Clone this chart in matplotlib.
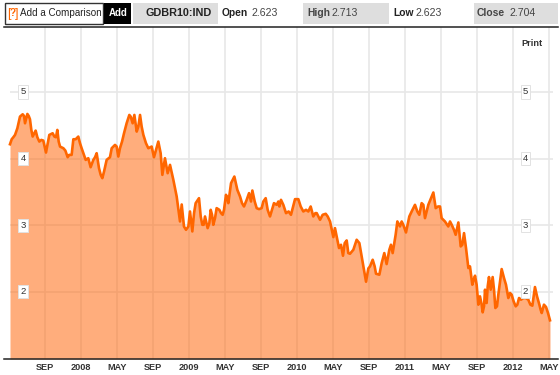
import matplotlib
matplotlib.use("Agg")
import matplotlib.pyplot as plt
from matplotlib.patches import Rectangle

# months after Sep 2007, yield in %
months = [
    -3.89, -3.70, -3.33, -3.07, -2.78, -2.48, -2.22, -1.96, -1.67, -1.37, -1.04, -0.63, -0.19, 0.11,
    0.48, 0.85, 1.04, 1.37, 1.67, 2.04, 2.52, 2.96, 3.15, 3.70, 4.07, 4.52, 4.81, 5.07, 5.74, 6.00,
    6.37, 6.85, 7.22, 7.41, 7.78, 8.15, 8.33, 8.78, 9.37, 9.74, 9.93, 10.19, 10.56, 10.93, 11.48,
    11.85, 12.11, 12.59, 13.04, 13.33, 13.63, 13.89, 14.26, 14.63, 15.00, 15.19, 15.67, 15.93, 16.11,
    16.37, 16.74, 17.11, 17.48, 17.78, 18.07, 18.41, 18.70, 19.07, 19.74, 20.11, 20.37, 20.67, 21.04,
    21.37, 22.11, 22.67, 22.89, 23.04, 23.52, 24.07, 24.52, 25.00, 25.44, 25.74, 26.22, 26.78, 27.33,
    27.78, 28.15, 28.70, 29.26, 29.52, 29.81, 30.19, 30.56, 31.19, 31.67, 32.04, 32.22, 32.67, 32.89,
    33.11, 33.52, 33.89, 34.63, 35.19, 35.67, 35.93, 36.11, 36.41, 36.78, 37.15, 37.41, 37.70, 37.96,
    38.44, 38.78, 39.15, 39.44, 39.63, 40.11, 40.48, 41.11, 41.59, 41.85, 42.22, 42.59, 43.15, 43.41,
    43.89, 44.07, 44.81, 45.19, 45.63, 45.93, 46.19, 46.56, 46.78, 47.04, 47.22, 47.48, 47.78, 48.15,
    48.33, 48.63, 48.89, 49.07, 49.33, 49.52, 49.74, 50.04, 50.37, 50.74, 51.22, 51.48, 51.85, 52.30,
    52.67, 53.15, 53.70, 54.15, 54.44, 54.93, 55.19, 55.67, 56.11,
]
yields = [
    4.215, 4.29, 4.355, 4.455, 4.63, 4.665, 4.53, 4.67, 4.59, 4.33, 4.42, 4.255, 4.27, 4.09,
    4.355, 4.38, 4.33, 4.43, 4.18, 4.155, 4.02, 4.055, 4.29, 4.33, 4.155, 3.98, 4.005, 3.87, 4.08, 3.855,
    3.705, 3.98, 4.02, 4.155, 4.205, 4.03, 4.155, 4.38, 4.655, 4.53, 4.655, 4.405, 4.655, 4.355, 4.155,
    4.18, 4.02, 4.255, 3.755, 4.005, 3.78, 3.905, 3.68, 3.43, 3.055, 3.31, 2.93, 2.98, 3.205,
    2.905, 3.33, 3.405, 3.005, 3.13, 2.955, 3.23, 3.005, 3.255, 3.155, 3.455, 3.33, 3.63, 3.73,
    3.53, 3.28, 3.48, 3.355, 3.52, 3.255, 3.255, 3.405, 3.13, 3.33, 3.305, 3.38, 3.18, 3.155,
    3.39, 3.39, 3.205, 3.205, 3.28, 3.13, 3.18, 3.08, 3.17, 3.055, 2.82, 2.955, 2.655, 2.705,
    2.54, 2.77, 2.57, 2.78, 2.53, 2.15, 2.35, 2.38, 2.48, 2.27, 2.255, 2.43, 2.58, 2.415,
    2.705, 2.705, 3.055, 2.98, 3.055, 2.89, 3.13, 3.305, 3.155, 3.33, 3.105, 3.305, 3.49, 3.255,
    3.28, 3.105, 2.98, 3.005, 2.855, 3.04, 2.68, 2.88, 2.655, 2.355, 2.38, 2.105, 2.24, 1.805,
    1.93, 1.69, 2.03, 1.83, 2.22, 2.03, 2.22, 1.755, 1.955, 2.34, 2.105, 1.905, 1.955, 1.78,
    1.905, 1.905, 1.88, 1.79, 2.07, 1.805, 1.68, 1.77, 1.57,
]
# second pass over the picture, the smaller wiggles
extra_months = [
    -3.52, -2.93, -2.33, -1.81, -1.52, -0.85, -0.41, 0.30, 1.22, 1.52, 2.26, 2.70, 3.41, 3.89, 4.33,
    5.37, 5.56, 6.19, 6.56, 7.96, 8.56, 9.07, 9.52, 10.37, 10.74, 11.22, 12.33, 12.85,
    15.44, 16.56, 17.30, 17.63, 18.26, 18.56, 18.89, 19.37, 19.56, 19.89, 20.26, 21.67, 21.89, 22.41,
    23.30, 23.78, 24.26, 24.74, 25.22, 25.93, 26.04, 26.48, 27.07, 27.52, 28.41, 29.00, 30.04, 30.37,
    30.85, 31.41, 33.30, 33.70, 34.26, 34.93, 35.44,
    36.63, 38.26, 38.63, 38.96, 39.81, 40.74, 41.37, 42.04, 42.89, 43.67, 44.44, 45.00, 45.44, 46.37,
    47.63, 47.96, 48.52, 48.78, 49.19, 49.89, 50.22, 51.00, 51.67, 52.07, 52.48, 52.89, 53.41, 53.93,
    54.67, 55.07, 55.44, 55.89,
]
extra_yields = [
    4.32, 4.54, 4.64, 4.64, 4.43, 4.32, 4.28, 4.23, 4.32, 4.255, 4.12, 4.055, 4.29, 4.23, 4.055,
    3.98, 4.02, 3.755, 3.805, 4.18, 4.255, 4.53, 4.63, 4.48, 4.48, 4.23, 4.13, 4.08,
    2.98, 3.18, 3.13, 3.005, 3.03, 3.155, 3.105, 3.23, 3.18, 3.23, 3.405, 3.43, 3.33, 3.38,
    3.355, 3.24, 3.355, 3.23, 3.23, 3.355, 3.28, 3.305, 3.205, 3.255, 3.28, 3.23, 3.18, 3.13,
    3.155, 3.13, 2.73, 2.58, 2.63, 2.73, 2.33,
    2.38, 2.63, 2.58, 2.855, 3.005, 3.205, 3.205, 3.305, 3.405, 3.28, 3.055, 3.055, 2.93, 2.705,
    2.18, 2.105, 1.805, 1.78, 2.08, 2.03, 1.78, 2.205, 1.98, 1.855, 1.805, 1.88, 1.905, 1.805,
    1.93, 1.73, 1.805, 1.68,
]
tick_months = [0, 4, 8, 12, 16, 20, 24, 28, 32, 36, 40, 44, 48, 52, 56]
tick_labels = ["SEP", "2008", "MAY", "SEP", "2009", "MAY", "SEP", "2010", "MAY", "SEP",
               "2011", "MAY", "SEP", "2012", "MAY"]
y_levels = [2, 3, 4, 5]

W, H = 560, 375
ORANGE = "#FF6600"
GRID = "#E8E8E8"
INK = "#222222"
BOX = "#DEDEDE"

plt.rcParams["font.family"] = ["Liberation Sans", "DejaVu Sans"]

merged = sorted(zip(months + extra_months, yields + extra_yields))
xs = [m for m, _ in merged]
ys = [v for _, v in merged]

fig = plt.figure(figsize=(W / 100, H / 100), dpi=100, facecolor="white")
ax = fig.add_axes([4 / W, 1 - 359 / H, 554 / W, 332 / H])
ax.set_xlim(-4.556, 57)
ax.set_ylim(0.989, 5.976)

for spine in ["left", "right"]:
    ax.spines[spine].set_visible(False)
for spine in ["top", "bottom"]:
    ax.spines[spine].set_color("#222222")
    ax.spines[spine].set_linewidth(1.1)

ax.hlines(y_levels, xs[0], 56.4, color=GRID, lw=1.2, zorder=1)
ax.vlines(tick_months, 0.989, 5.976, color=GRID, lw=1.2, zorder=1)

ax.fill_between(xs, ys, 0.989, color="#FF6A10", alpha=0.55, lw=0, zorder=2)
ax.plot(xs, ys, color=ORANGE, lw=1.9, solid_joinstyle="round", zorder=3)

ax.set_xticks(tick_months)
ax.set_xticklabels(tick_labels, fontsize=6.6, fontweight="bold", color="#333333")
ax.tick_params(axis="x", length=0, pad=3)
ax.set_yticks([])

label_box = dict(boxstyle="square,pad=0.22", fc="white", ec="#E2E2E2", lw=0.7)
for lvl in y_levels:
    for xpos in (-2.45, 53.4):
        ax.text(xpos, lvl, str(lvl), fontsize=6.8, color="#333333", ha="center", va="center",
                bbox=label_box, zorder=4)

# header strip, pixel positions
def box(x0, y0, x1, y1, **kw):
    fig.add_artist(Rectangle((x0 / W, 1 - y1 / H), (x1 - x0) / W, (y1 - y0) / H,
                             transform=fig.transFigure, **kw))

def label(x, y, s, **kw):
    fig.text(x / W, 1 - y / H, s, va="center", **kw)

box(4.5, 3.5, 103, 23.5, fc="white", ec="#333333", lw=1)
box(104, 3, 131, 24, fc="black", ec="none")
box(133, 3, 218, 24, fc=BOX, ec="none")
box(303, 3, 389, 24, fc=BOX, ec="none")
box(474, 3, 558, 24, fc=BOX, ec="none")

label(7, 13.5, "[", color=ORANGE, fontsize=9)
label(10, 13.5, "?", color=ORANGE, fontsize=7, fontweight="bold")
label(15, 13.5, "]", color=ORANGE, fontsize=9)
label(20, 13.5, "Add a Comparison", color=INK, fontsize=7.1)
label(109, 13.5, "Add", color="white", fontsize=7, fontweight="bold")
label(145, 13.5, "GDBR10:IND", color=INK, fontsize=7.8, fontweight="bold")
label(222, 13.5, "Open", color=INK, fontsize=7.4, fontweight="bold")
label(251, 13.5, "2.623", color="#444444", fontsize=7.6)
label(307, 13.5, "High", color="#444444", fontsize=7.4, fontweight="bold")
label(332, 13.5, "2.713", color="#444444", fontsize=7.6)
label(393, 13.5, "Low", color=INK, fontsize=7.4, fontweight="bold")
label(415, 13.5, "2.623", color="#444444", fontsize=7.6)
label(477, 13.5, "Close", color="#444444", fontsize=7.4, fontweight="bold")
label(510, 13.5, "2.704", color="#444444", fontsize=7.6)
label(521, 43.5, "Print", color="#333333", fontsize=6.6, fontweight="bold")

plt.savefig("out.png", dpi=100, facecolor="white")
